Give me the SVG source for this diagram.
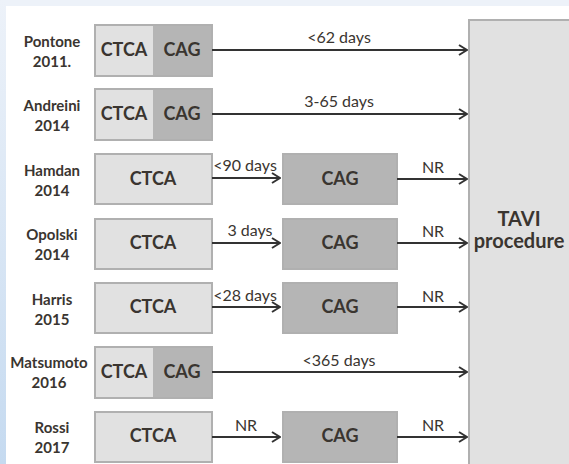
<svg xmlns="http://www.w3.org/2000/svg" width="569" height="464" viewBox="0 0 569 464">
<defs>
<linearGradient id="lg" x1="0" y1="0" x2="0" y2="1">
<stop offset="0" stop-color="#edf2f9"/>
<stop offset="1" stop-color="#c5daf0"/>
</linearGradient>
<marker id="ah" markerWidth="10" markerHeight="12" refX="9" refY="6" orient="auto" markerUnits="userSpaceOnUse">
<path d="M1,1 L9,6 L1,11" fill="none" stroke="#333" stroke-width="2"/>
</marker>
<style>
.lbl{font-family:Lato,"Liberation Sans",sans-serif;font-size:15px;font-weight:bold;fill:#3a3530;text-anchor:middle}
.bt{font-family:Lato,"Liberation Sans",sans-serif;font-size:18px;font-weight:bold;fill:#3a3530;text-anchor:middle}
.tv{font-family:Lato,"Liberation Sans",sans-serif;font-size:20px;font-weight:bold;fill:#3a3530;text-anchor:middle}
.at{font-family:Lato,"Liberation Sans",sans-serif;font-size:16px;fill:#3a3530;text-anchor:middle}
.lt{fill:#e1e1e1;stroke:#b0b0b0;stroke-width:2}
.dk{fill:#b5b5b5;stroke:#b0b0b0;stroke-width:2}
.dkf{fill:#b5b5b5}
.ln{stroke:#333;stroke-width:2;fill:none;marker-end:url(#ah)}
</style>
</defs>
<rect x="0" y="0" width="569" height="464" fill="#ffffff"/>
<rect x="0" y="0" width="569" height="6" fill="#edf2f9"/>
<rect x="0" y="0" width="6" height="464" fill="url(#lg)"/>

<g id="tavi">
<rect x="469" y="20" width="110" height="460" fill="#e1e1e1" stroke="#b0b0b0" stroke-width="2"/>
<text class="tv" x="519" y="226">TAVI</text>
<text class="tv" x="519" y="248">procedure</text>
</g>

<g id="pontone">
<text class="lbl" x="52" y="47">Pontone</text>
<text class="lbl" x="52" y="67">2011.</text>
<rect class="lt" x="95" y="25" width="117" height="51"/>
<rect class="dkf" x="153" y="26" width="58" height="49"/>
<text class="bt" x="124" y="56">CTCA</text>
<text class="bt" x="182" y="56">CAG</text>
</g>
<g id="andreini">
<text class="lbl" x="52" y="111">Andreini</text>
<text class="lbl" x="52" y="131">2014</text>
<rect class="lt" x="95" y="89" width="117" height="51"/>
<rect class="dkf" x="153" y="90" width="58" height="49"/>
<text class="bt" x="124" y="120">CTCA</text>
<text class="bt" x="182" y="120">CAG</text>
</g>
<g id="hamdan">
<text class="lbl" x="52" y="176">Hamdan</text>
<text class="lbl" x="52" y="196">2014</text>
<rect class="lt" x="95" y="154" width="117" height="50"/>
<text class="bt" x="153" y="185">CTCA</text>
</g>
<g id="hamdan-cag">
<rect class="dk" x="283" y="154" width="114" height="50"/>
<text class="bt" x="340" y="185">CAG</text>
</g>
<g id="opolski">
<text class="lbl" x="52" y="240">Opolski</text>
<text class="lbl" x="52" y="260">2014</text>
<rect class="lt" x="95" y="219" width="117" height="50"/>
<text class="bt" x="153" y="249">CTCA</text>
</g>
<g id="opolski-cag">
<rect class="dk" x="283" y="219" width="114" height="50"/>
<text class="bt" x="340" y="249">CAG</text>
</g>
<g id="harris">
<text class="lbl" x="52" y="305">Harris</text>
<text class="lbl" x="52" y="325">2015</text>
<rect class="lt" x="95" y="283" width="117" height="50"/>
<text class="bt" x="153" y="313">CTCA</text>
</g>
<g id="harris-cag">
<rect class="dk" x="283" y="283" width="114" height="50"/>
<text class="bt" x="340" y="313">CAG</text>
</g>
<g id="matsumoto">
<text class="lbl" x="49" y="368">Matsumoto</text>
<text class="lbl" x="49" y="388">2016</text>
<rect class="lt" x="95" y="347" width="117" height="51"/>
<rect class="dkf" x="153" y="348" width="58" height="49"/>
<text class="bt" x="124" y="378">CTCA</text>
<text class="bt" x="182" y="378">CAG</text>
</g>
<g id="rossi">
<text class="lbl" x="52" y="433">Rossi</text>
<text class="lbl" x="52" y="453">2017</text>
<rect class="lt" x="95" y="412" width="117" height="50"/>
<text class="bt" x="153" y="442">CTCA</text>
</g>
<g id="rossi-cag">
<rect class="dk" x="283" y="412" width="114" height="50"/>
<text class="bt" x="340" y="442">CAG</text>
</g>

<g id="connectors">
<line class="ln" x1="212" y1="50" x2="467" y2="50"/>
<text class="at" x="339" y="43">&lt;62 days</text>
<line class="ln" x1="212" y1="114" x2="467" y2="114"/>
<text class="at" x="339" y="107">3-65 days</text>
<line class="ln" x1="212" y1="178" x2="280" y2="178"/>
<text class="at" x="245" y="171">&lt;90 days</text>
<line class="ln" x1="397" y1="179" x2="467" y2="179"/>
<text class="at" x="433" y="173">NR</text>
<line class="ln" x1="212" y1="243" x2="280" y2="243"/>
<text class="at" x="250" y="236">3 days</text>
<line class="ln" x1="397" y1="243" x2="467" y2="243"/>
<text class="at" x="433" y="237">NR</text>
<line class="ln" x1="212" y1="307" x2="280" y2="307"/>
<text class="at" x="245" y="301">&lt;28 days</text>
<line class="ln" x1="397" y1="307" x2="467" y2="307"/>
<text class="at" x="433" y="302">NR</text>
<line class="ln" x1="212" y1="372" x2="467" y2="372"/>
<text class="at" x="339" y="366">&lt;365 days</text>
<line class="ln" x1="212" y1="437" x2="280" y2="437"/>
<text class="at" x="246" y="431">NR</text>
<line class="ln" x1="397" y1="437" x2="467" y2="437"/>
<text class="at" x="433" y="431">NR</text>
</g>
</svg>
